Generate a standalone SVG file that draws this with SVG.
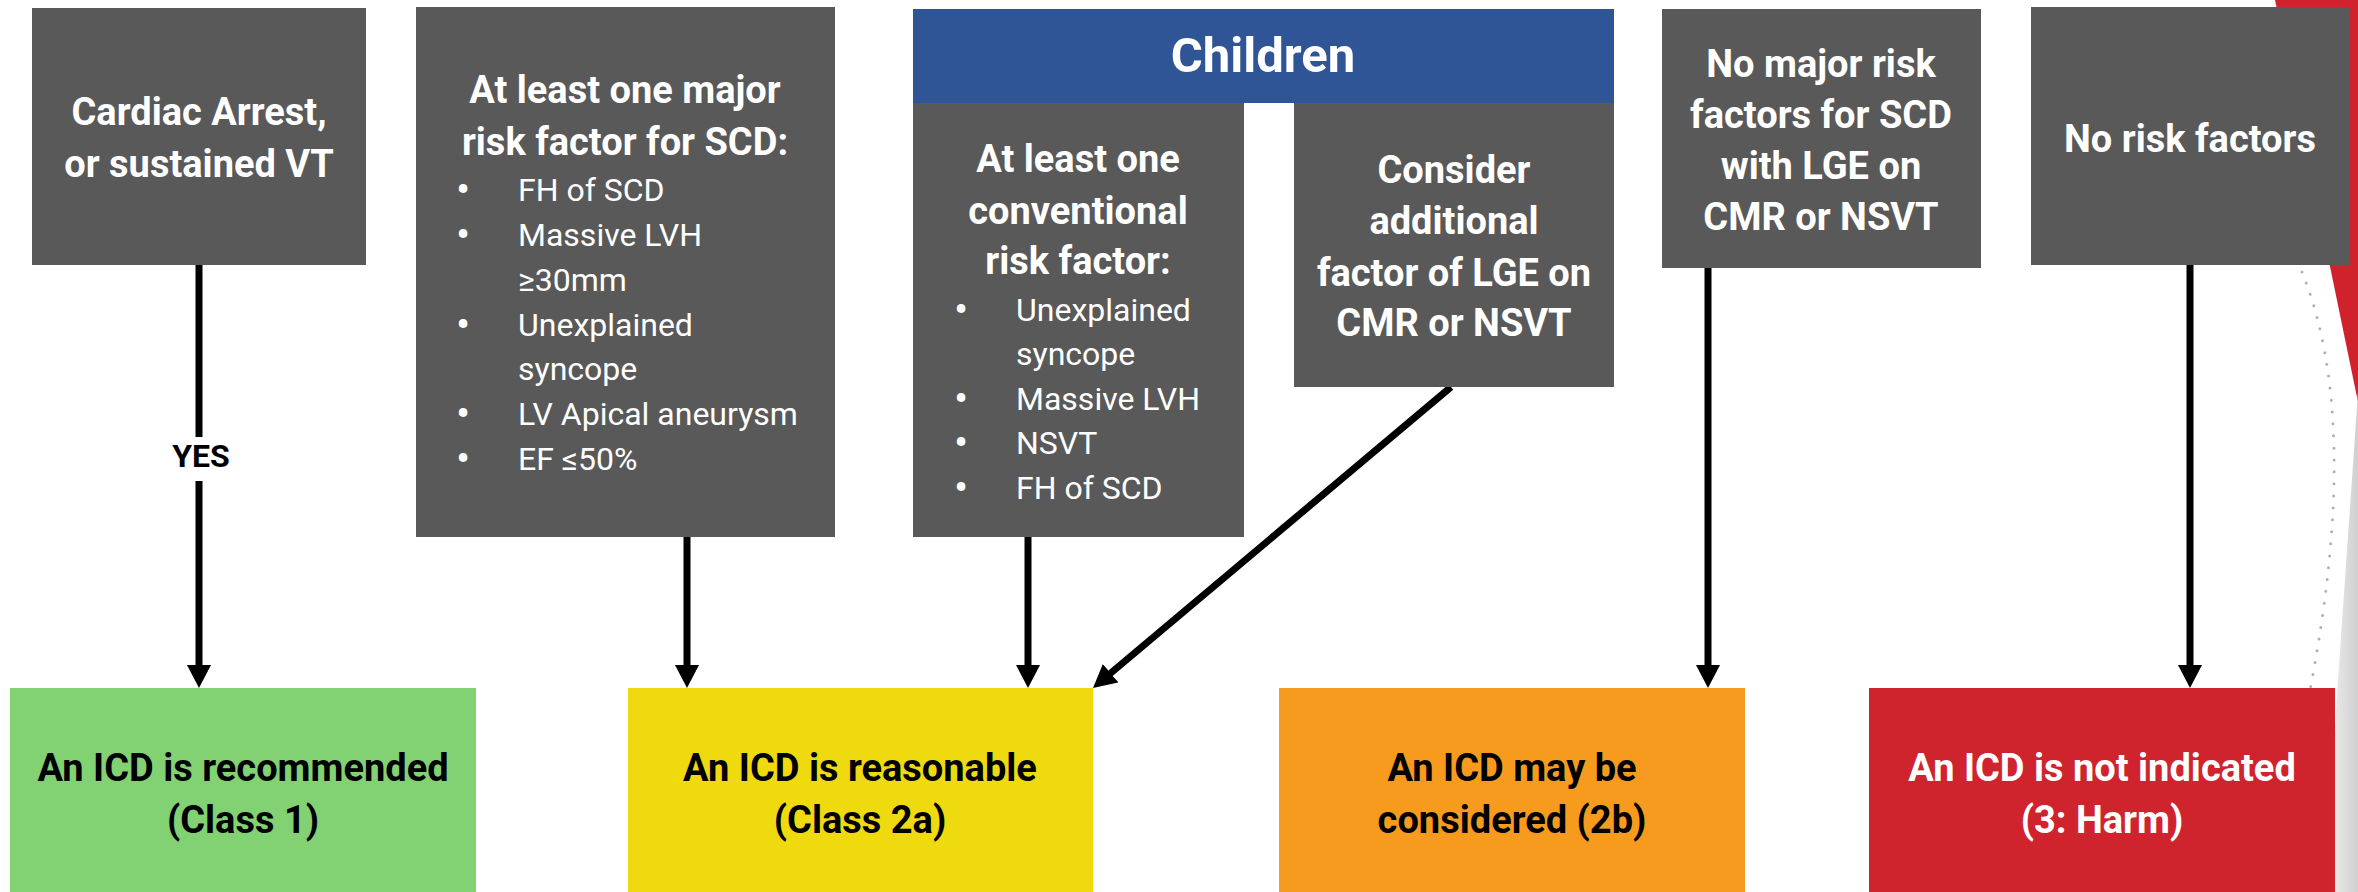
<svg xmlns="http://www.w3.org/2000/svg" width="2358" height="892" viewBox="0 0 2358 892">
  <defs>
    <style>
      .box { fill: #595959; }
      .t { font-family: Roboto, "Liberation Sans", sans-serif; font-weight: 700; font-size: 38px; fill: #ffffff; text-anchor: middle; }
      .b { font-family: Roboto, "Liberation Sans", sans-serif; font-weight: 400; font-size: 32px; fill: #ffffff; }
      .bm { font-family: Roboto, "Liberation Sans", sans-serif; font-weight: 700; font-size: 36px; fill: #ffffff; text-anchor: middle; }
      .dk { fill: #000000; }
      .conn { stroke: #000000; stroke-width: 7; fill: none; }
    </style>
    <marker id="ah" markerUnits="userSpaceOnUse" markerWidth="24" markerHeight="24" refX="3" refY="12" orient="auto">
      <path d="M0,0 L23,12 L0,24 Z" fill="#000000"/>
    </marker>
    <linearGradient id="swoosh" x1="0" y1="0" x2="1" y2="0">
      <stop offset="0" stop-color="#f2f2f2"/>
      <stop offset="1" stop-color="#cfcfcf"/>
    </linearGradient>
  </defs>

  <rect width="2358" height="892" fill="#ffffff"/>

  <g id="decoration">
    <polygon points="2275,0 2358,0 2358,402" fill="#d0222c"/>
    <polygon points="2358,392 2358,892 2326,892 2338,680" fill="url(#swoosh)"/>
    <path d="M2302,272 Q2362,420 2310,690" stroke="#b0b0b0" stroke-width="3" stroke-linecap="round" stroke-dasharray="0 12" fill="none"/>
  </g>

  <g id="connectors">
    <line class="conn" x1="199" y1="265" x2="199" y2="437"/>
    <line class="conn" x1="199" y1="481" x2="199" y2="668" marker-end="url(#ah)"/>
    <line class="conn" x1="687" y1="537" x2="687" y2="668" marker-end="url(#ah)"/>
    <line class="conn" x1="1028" y1="537" x2="1028" y2="668" marker-end="url(#ah)"/>
    <line class="conn" x1="1451" y1="387" x2="1108.3" y2="675.1" marker-end="url(#ah)"/>
    <line class="conn" x1="1708" y1="268" x2="1708" y2="668" marker-end="url(#ah)"/>
    <line class="conn" x1="2190" y1="265" x2="2190" y2="668" marker-end="url(#ah)"/>
    <text x="201" y="467" font-family="Roboto, 'Liberation Sans', sans-serif" font-weight="700" font-size="32" text-anchor="middle" fill="#000000">YES</text>
  </g>

  <g id="cardiac-arrest">
    <rect class="box" x="32" y="8" width="334" height="257"/>
    <text class="t" x="199" y="125">Cardiac Arrest,</text>
    <text class="t" x="199" y="177">or sustained VT</text>
  </g>

  <g id="major-risk">
    <rect class="box" x="416" y="7" width="419" height="530"/>
    <text class="t" x="625" y="103">At least one major</text>
    <text class="t" x="625" y="155">risk factor for SCD:</text>
    <text class="bm" x="463" y="202">•</text>
    <text class="b" x="518" y="201">FH of SCD</text>
    <text class="bm" x="463" y="247">•</text>
    <text class="b" x="518" y="246">Massive LVH</text>
    <text class="b" x="518" y="291">≥30mm</text>
    <text class="bm" x="463" y="337">•</text>
    <text class="b" x="518" y="336">Unexplained</text>
    <text class="b" x="518" y="380">syncope</text>
    <text class="bm" x="463" y="426">•</text>
    <text class="b" x="518" y="425">LV Apical aneurysm</text>
    <text class="bm" x="463" y="471">•</text>
    <text class="b" x="518" y="470">EF ≤50%</text>
  </g>

  <g id="children-header">
    <rect x="913" y="9" width="701" height="94" fill="#2f5597"/>
    <text x="1263" y="72" font-family="Roboto, 'Liberation Sans', sans-serif" font-weight="700" font-size="49" text-anchor="middle" fill="#ffffff">Children</text>
  </g>

  <g id="conventional-risk">
    <rect class="box" x="913" y="103" width="331" height="434"/>
    <text class="t" x="1078" y="172">At least one</text>
    <text class="t" x="1078" y="224">conventional</text>
    <text class="t" x="1078" y="274">risk factor:</text>
    <text class="bm" x="961" y="322">•</text>
    <text class="b" x="1016" y="321">Unexplained</text>
    <text class="b" x="1016" y="365">syncope</text>
    <text class="bm" x="961" y="411">•</text>
    <text class="b" x="1016" y="410">Massive LVH</text>
    <text class="bm" x="961" y="455">•</text>
    <text class="b" x="1016" y="454">NSVT</text>
    <text class="bm" x="961" y="500">•</text>
    <text class="b" x="1016" y="499">FH of SCD</text>
  </g>

  <g id="consider-lge">
    <rect class="box" x="1294" y="103" width="320" height="284"/>
    <text class="t" x="1454" y="183">Consider</text>
    <text class="t" x="1454" y="234">additional</text>
    <text class="t" x="1454" y="286">factor of LGE on</text>
    <text class="t" x="1454" y="336">CMR or NSVT</text>
  </g>

  <g id="no-major-risk">
    <rect class="box" x="1662" y="9" width="319" height="259"/>
    <text class="t" x="1821" y="77">No major risk</text>
    <text class="t" x="1821" y="128">factors for SCD</text>
    <text class="t" x="1821" y="179">with LGE on</text>
    <text class="t" x="1821" y="230">CMR or NSVT</text>
  </g>

  <g id="no-risk">
    <rect class="box" x="2031" y="7" width="318" height="258"/>
    <text class="t" x="2190" y="152">No risk factors</text>
  </g>

  <g id="class1">
    <rect x="10" y="688" width="466" height="204" fill="#82d173"/>
    <text class="t dk" x="243" y="781">An ICD is recommended</text>
    <text class="t dk" x="243" y="833">(Class 1)</text>
  </g>

  <g id="class2a">
    <rect x="628" y="688" width="465" height="204" fill="#efd90f"/>
    <text class="t dk" x="860" y="781">An ICD is reasonable</text>
    <text class="t dk" x="860" y="833">(Class 2a)</text>
  </g>

  <g id="class2b">
    <rect x="1279" y="688" width="466" height="204" fill="#f79b1f"/>
    <text class="t dk" x="1512" y="781">An ICD may be</text>
    <text class="t dk" x="1512" y="833">considered (2b)</text>
  </g>

  <g id="class3">
    <rect x="1869" y="688" width="466" height="204" fill="#cf232d"/>
    <text class="t" x="2102" y="781">An ICD is not indicated</text>
    <text class="t" x="2102" y="833">(3: Harm)</text>
  </g>
</svg>
